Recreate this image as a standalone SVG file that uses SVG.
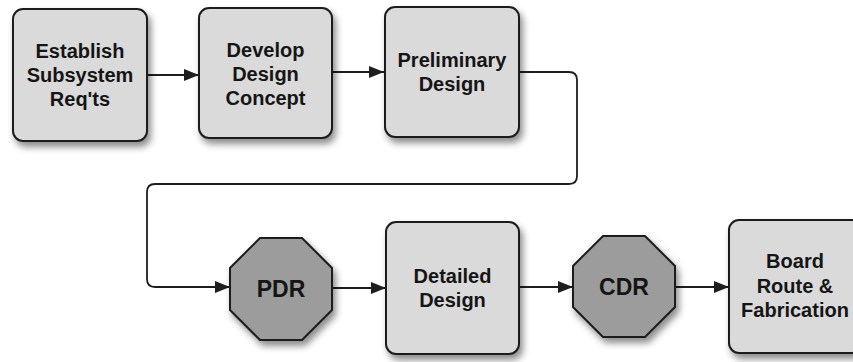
<svg xmlns="http://www.w3.org/2000/svg" width="853" height="362" viewBox="0 0 853 362">
  <style>
    .box { fill: #dadada; stroke: #1e1e1e; stroke-width: 2; filter: url(#shadow); }
    .gate { fill: #9c9c9c; stroke: #1e1e1e; stroke-width: 2; filter: url(#shadow); }
    .label { font-family: "Liberation Sans", Arial, sans-serif; font-weight: bold; font-size: 20px; fill: #151515; text-anchor: middle; }
    .gate-label { font-size: 23px; }
    .wire { fill: none; stroke: #1e1e1e; stroke-width: 1.8; marker-end: url(#arrow); }
  </style>
  <defs>
    <filter id="shadow" x="-20%" y="-20%" width="150%" height="150%">
      <feDropShadow dx="3" dy="5" stdDeviation="3.5" flood-color="#000" flood-opacity="0.45"/>
    </filter>
    <marker id="arrow" markerUnits="userSpaceOnUse" markerWidth="16" markerHeight="12" refX="15" refY="6" orient="auto">
      <path d="M0,0 L15,6 L0,12 z" fill="#1e1e1e"/>
    </marker>
  </defs>

  <!-- connectors -->
  <g id="connectors">
    <path class="wire" d="M147,75 H199"/>
    <path class="wire" d="M332,72 H384"/>
    <path class="wire" d="M519,72 H569 Q577,72 577,80 V176 Q577,184 569,184 H155 Q147,184 147,192 V279 Q147,287 155,287 H230"/>
    <path class="wire" d="M332,288 H386"/>
    <path class="wire" d="M519,287 H573"/>
    <path class="wire" d="M675,287 H729"/>
  </g>

  <g id="establish">
    <rect class="box" x="13" y="9" width="134" height="132" rx="10"/>
    <text class="label" x="80" y="58">Establish</text>
    <text class="label" x="80" y="82">Subsystem</text>
    <text class="label" x="80" y="106">Req'ts</text>
  </g>

  <g id="develop">
    <rect class="box" x="199" y="8" width="133" height="130" rx="10"/>
    <text class="label" x="265.5" y="57">Develop</text>
    <text class="label" x="265.5" y="81">Design</text>
    <text class="label" x="265.5" y="105">Concept</text>
  </g>

  <g id="preliminary">
    <rect class="box" x="385" y="7" width="134" height="130" rx="10"/>
    <text class="label" x="452" y="67">Preliminary</text>
    <text class="label" x="452" y="91">Design</text>
  </g>

  <g id="pdr">
    <polygon class="gate" points="260,238 302,238 332,268 332,310 302,340 260,340 230,310 230,268"/>
    <text class="label gate-label" x="281" y="297">PDR</text>
  </g>

  <g id="detailed">
    <rect class="box" x="386" y="222" width="133" height="132" rx="10"/>
    <text class="label" x="452.5" y="283">Detailed</text>
    <text class="label" x="452.5" y="307">Design</text>
  </g>

  <g id="cdr">
    <polygon class="gate" points="603,236 645,236 675,266 675,307 645,337 603,337 573,307 573,266"/>
    <text class="label gate-label" x="624" y="295">CDR</text>
  </g>

  <g id="board">
    <rect class="box" x="729" y="220" width="133" height="133" rx="10"/>
    <text class="label" x="795" y="268">Board</text>
    <text class="label" x="795" y="293">Route &amp;</text>
    <text class="label" x="795" y="317">Fabrication</text>
  </g>
</svg>
